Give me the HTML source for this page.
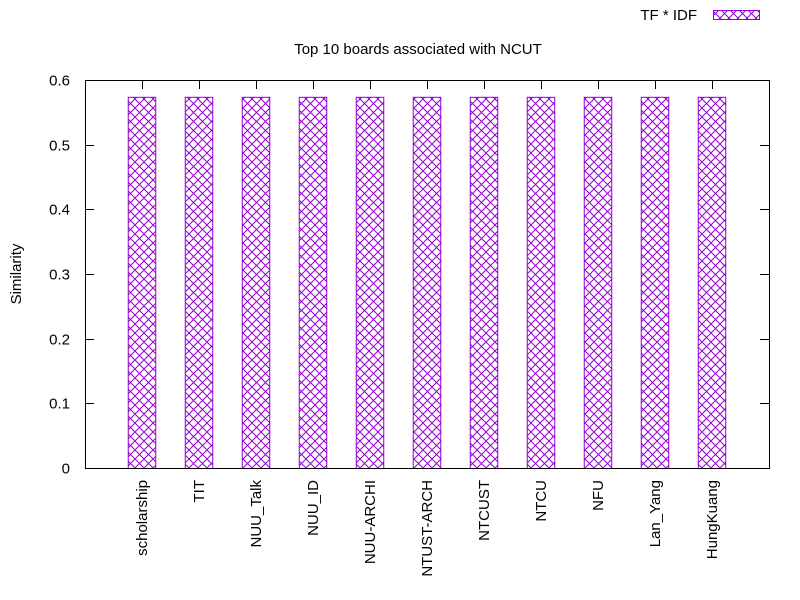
<!DOCTYPE html>
<html><head><meta charset="utf-8"><style>
body{margin:0;background:#fff;}
svg{display:block;font-family:"Liberation Sans",sans-serif;}
</style></head><body>
<svg id="chart" width="800" height="600" viewBox="0 0 800 600">
<defs>
<pattern id="hatch" patternUnits="userSpaceOnUse" width="9" height="9">
<path d="M0,0 L9,9 M9,0 L0,9" stroke="#9400d3" stroke-width="1" fill="none"/>
</pattern>
</defs>
<text x="418" y="54" font-size="15" text-anchor="middle">Top 10 boards associated with NCUT</text>
<text x="21" y="274" font-size="15" text-anchor="middle" transform="rotate(-90 21 274)">Similarity</text>
<g>
<text x="697" y="20" font-size="15" text-anchor="end">TF * IDF</text>
<rect x="713.5" y="10.5" width="46" height="9" fill="url(#hatch)" stroke="#9400d3"/>
</g>
<g id="marks"></g>
<rect x="85.5" y="80.5" width="684" height="388" fill="none" stroke="#000"/>
</svg>
<script>
const categories = ["scholarship","TIT","NUU_Talk","NUU_ID","NUU-ARCHI","NTUST-ARCH","NTCUST","NTCU","NFU","Lan_Yang","HungKuang"];
const values = [0.574,0.574,0.574,0.574,0.574,0.574,0.574,0.574,0.574,0.574,0.574];
const yTicks = [0,0.1,0.2,0.3,0.4,0.5,0.6];
const yTickLabels = ["0","0.1","0.2","0.3","0.4","0.5","0.6"];

const L=85,R=769,T=80,B=468;
const xs = i => L + (i+1)*(R-L)/(categories.length+1);
const ys = v => B - v/0.6*(B-T);
const NS="http://www.w3.org/2000/svg";
const g=document.getElementById('marks');
function mk(tag,attrs){const e=document.createElementNS(NS,tag);for(const k in attrs)e.setAttribute(k,attrs[k]);g.appendChild(e);return e;}
const bw=(R-L)/(categories.length+1)*0.5;
values.forEach((v,i)=>{
  const b=mk('rect',{x:xs(i)-bw/2+0.5,y:ys(v)+0.5,width:bw-1,height:B-ys(v),fill:'url(#hatch)',stroke:'#9400d3'});
  
  
  const t=mk('line',{x1:xs(i)+0.5,x2:xs(i)+0.5,y1:T,y2:T+9,stroke:'#000'});
  
  
  const lb=mk('text',{x:0,y:0,'font-size':15,'text-anchor':'end',transform:`translate(${xs(i)+5},${B+12}) rotate(-90)`});
  lb.textContent=categories[i];
  
  
});
yTicks.forEach((v,i)=>{
  const y=Math.round(ys(v))+0.5;
  const a=mk('line',{x1:L,x2:L+9,y1:y,y2:y,stroke:'#000'});
  
  
  const b=mk('line',{x1:R-9,x2:R,y1:y,y2:y,stroke:'#000'});
  
  
  const t=mk('text',{x:L-15,y:y+5,'font-size':15,'text-anchor':'end'});
  t.textContent=yTickLabels[i];
  
  
});
</script>
</body></html>
